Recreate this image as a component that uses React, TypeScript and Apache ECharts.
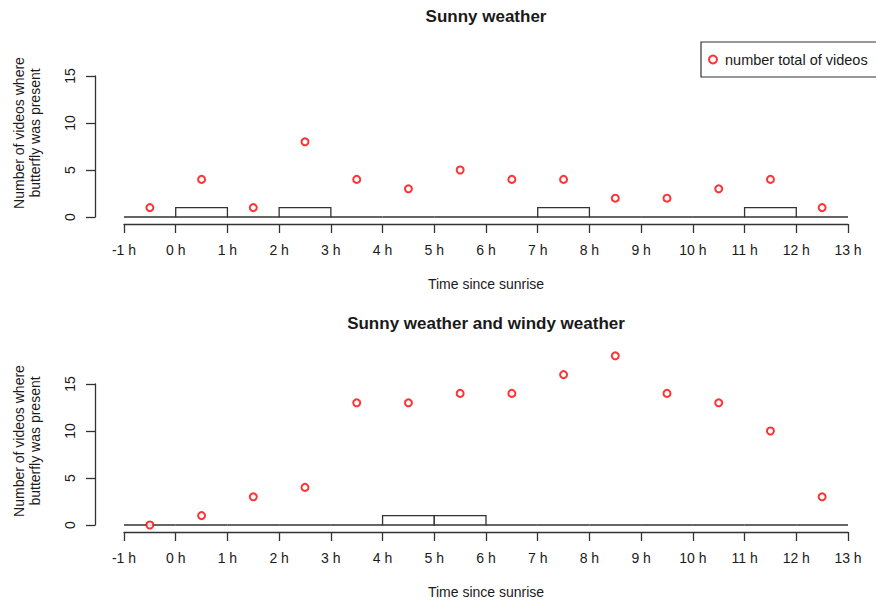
import React, { useEffect, useRef } from "react";
import * as echarts from "echarts";

// ---- data ----
const pointHours = [-0.5, 0.5, 1.5, 2.5, 3.5, 4.5, 5.5, 6.5, 7.5, 8.5, 9.5, 10.5, 11.5, 12.5];
const sunnyTotals = [1, 4, 1, 8, 4, 3, 5, 4, 4, 2, 2, 3, 4, 1];
const windyTotals = [0, 1, 3, 4, 13, 13, 14, 14, 16, 18, 14, 13, 10, 3];

const binStarts = [-1, 0, 1, 2, 3, 4, 5, 6, 7, 8, 9, 10, 11, 12];
const binEnds = [0, 1, 2, 3, 4, 5, 6, 7, 8, 9, 10, 11, 12, 13];
const sunnyHist = [0, 1, 0, 1, 0, 0, 0, 0, 1, 0, 0, 0, 1, 0];
const windyHist = [0, 0, 0, 0, 0, 1, 1, 0, 0, 0, 0, 0, 0, 0];

const titles = ["Sunny weather", "Sunny weather and windy weather"];
const xTitle = "Time since sunrise";
const yTitle = "Number of videos where\nbutterfly was present";
const legendName = "number total of videos";

const FONT = "'Liberation Sans', Arial, Helvetica, sans-serif";
const TXT = "#1a1a1a";
const LINE = "#333333";

export default function App() {
  const ref = useRef<HTMLDivElement>(null);

  useEffect(() => {
    if (!ref.current) return;
    const chart = echarts.init(ref.current, null, { renderer: "svg" });

    const gridTops = [76, 384];
    const grids = gridTops.map((t) => ({
      left: 124,
      right: 28,
      top: t,
      height: 141,
      outerBoundsMode: "none",
      containLabel: false,
    }));

    const xAxes = [0, 1].map((i) => ({
      type: "value",
      gridIndex: i,
      min: -1,
      max: 13,
      interval: 1,
      offset: 7,
      splitLine: { show: false },
      axisLine: { show: true, onZero: false, lineStyle: { color: LINE, width: 1.3 } },
      axisTick: { show: true, length: 9, lineStyle: { color: LINE, width: 1.3 } },
      axisLabel: {
        margin: 19,
        fontSize: 14,
        fontFamily: FONT,
        color: TXT,
        formatter: (v: number) => `${v} h`,
      },
      name: xTitle,
      nameLocation: "middle",
      nameGap: 53,
      nameTextStyle: { fontSize: 14, fontFamily: FONT, color: TXT, verticalAlign: "top" },
    }));

    const yAxes = [0, 1].map((i) => ({
      type: "value",
      gridIndex: i,
      min: 0,
      max: 15,
      interval: 5,
      offset: 29,
      splitLine: { show: false },
      axisLine: { show: true, onZero: false, lineStyle: { color: LINE, width: 1.3 } },
      axisTick: { show: true, length: 9, lineStyle: { color: LINE, width: 1.3 } },
      axisLabel: {
        rotate: 90,
        margin: 18,
        fontSize: 14,
        fontFamily: FONT,
        color: TXT,
      },
    }));

    const histSeries = (hist: number[], idx: number) => ({
      type: "custom",
      xAxisIndex: idx,
      yAxisIndex: idx,
      silent: true,
      clip: false,
      encode: { x: [0, 1], y: 2 },
      data: binStarts.map((s, k) => [s, binEnds[k], hist[k]]),
      renderItem: (params: any, api: any) => {
        const p0 = api.coord([api.value(0), 0]);
        const p1 = api.coord([api.value(1), api.value(2)]);
        return {
          type: "polygon",
          shape: {
            points: [
              [p0[0], p0[1]],
              [p0[0], p1[1]],
              [p1[0], p1[1]],
              [p1[0], p0[1]],
            ],
          },
          style: { fill: "#ffffff", stroke: LINE, lineWidth: 1.3 },
        };
      },
    });

    const pointSeries = (vals: number[], idx: number, name: string) => ({
      type: "scatter",
      name,
      xAxisIndex: idx,
      yAxisIndex: idx,
      clip: false,
      symbol: "emptyCircle",
      symbolSize: 7,
      itemStyle: { color: "#ff0000", borderWidth: 1.3 },
      data: pointHours.map((h, k) => [h, vals[k]]),
      z: 5,
    });

    const graphics: any[] = [];
    [16, 323.5].forEach((y, i) => {
      graphics.push({
        type: "text",
        x: 486,
        y,
        style: {
          text: titles[i],
          font: `bold 17px ${FONT}`,
          fill: TXT,
          textAlign: "center",
          textVerticalAlign: "middle",
        },
      });
    });
    [133, 441].forEach((y) => {
      graphics.push({
        type: "text",
        x: 27,
        y,
        rotation: Math.PI / 2,
        style: {
          text: yTitle,
          font: `14px ${FONT}`,
          lineHeight: 16,
          fill: TXT,
          textAlign: "center",
          textVerticalAlign: "middle",
        },
      });
    });

    chart.setOption({
      animation: false,
      backgroundColor: "#ffffff",
      grid: grids,
      xAxis: xAxes,
      yAxis: yAxes,
      legend: {
        data: [{ name: legendName, icon: "emptyCircle" }],
        left: 701,
        top: 42,
        padding: [10, 10, 10, 7],
        itemWidth: 14,
        itemHeight: 8,
        borderColor: LINE,
        borderWidth: 1.2,
        textStyle: { fontSize: 14.5, fontFamily: FONT, color: TXT },
        selectedMode: false,
      },
      series: [
        histSeries(sunnyHist, 0),
        histSeries(windyHist, 1),
        pointSeries(sunnyTotals, 0, legendName),
        pointSeries(windyTotals, 1, "windy"),
      ],
      graphic: graphics,
    });

    return () => chart.dispose();
  }, []);

  return (
    <div
      ref={ref}
      style={{ position: "absolute", left: 0, top: 0, width: 876, height: 606 }}
    />
  );
}
